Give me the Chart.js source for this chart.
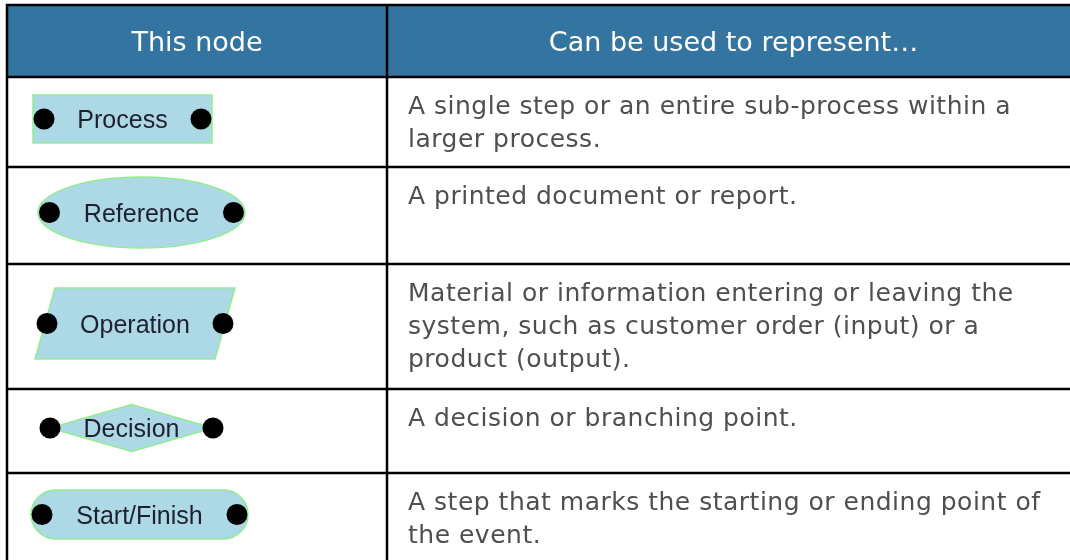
<!DOCTYPE html>
<html>
<head>
<meta charset="utf-8">
<script src="https://cdn.jsdelivr.net/npm/chart.js@4.4.1/dist/chart.umd.min.js"></script>
<style>
  html, body { margin: 0; padding: 0; background: #fff; }
  #wrap { width: 1070px; height: 560px; }
</style>
</head>
<body>
<div id="wrap"><canvas id="nodeTable" width="1070" height="560"></canvas></div>
<script>
// Table content
const headers = ["This node", "Can be used to represent…"];
const nodeNames = ["Process", "Reference", "Operation", "Decision", "Start/Finish"];
const nodeShapes = ["rect", "ellipse", "parallelogram", "diamond", "stadium"];
const descriptions = [
    ["A single step or an entire sub-process within a", "larger process."],
    ["A printed document or report."],
    ["Material or information entering or leaving the", "system, such as customer order (input) or a", "product (output)."],
    ["A decision or branching point."],
    ["A step that marks the starting or ending point of", "the event."]
];

// Layout (in scale units, the scales span the whole canvas)
const colEdges = [7, 387, 1080];
const rowEdges = [5, 77, 167, 264, 389, 473, 562];
const shapeStyle = {
    rect:          { w: 179, h: 48, cx: 122.5, dot: 11 },
    ellipse:       { w: 207, h: 71, cx: 141.5, dot: 11.5 },
    parallelogram: { w: 200, h: 71, cx: 135,   dot: 12, slant: 20 },
    diamond:       { w: 163, h: 47, cx: 131.5, dot: 0 },
    stadium:       { w: 217, h: 49, cx: 139.5, dot: 11 }
};

const headerFill = "#3474a1";
const gridColor = "#000";
const bodyColor = "#4f4f4f";
const nodeFill = "#add8e6";
const nodeStroke = "#90ee90";

function rowMid(r) { return (rowEdges[r] + rowEdges[r + 1]) / 2; }

// table grid, header and description texts
const tablePlugin = {
    id: "tableGrid",
    beforeDatasetsDraw(chart) {
        const ctx = chart.ctx;
        const xs = chart.scales.x, ys = chart.scales.y;
        const X = v => xs.getPixelForValue(v);
        const Y = v => ys.getPixelForValue(v);
        ctx.save();

        // header band
        ctx.fillStyle = headerFill;
        ctx.fillRect(X(colEdges[0]), Y(rowEdges[0]), X(colEdges[2]) - X(colEdges[0]), Y(rowEdges[1]) - Y(rowEdges[0]));

        // header labels
        ctx.fillStyle = "#fff";
        ctx.font = "27px 'DejaVu Sans'";
        ctx.textAlign = "center";
        ctx.textBaseline = "alphabetic";
        headers.forEach((h, c) => {
            const cx = (X(colEdges[c]) + X(colEdges[c + 1])) / 2;
            ctx.fillText(h, cx, Y(rowMid(0)) + 10);
        });

        // descriptions
        ctx.fillStyle = bodyColor;
        ctx.font = "25px 'DejaVu Sans'";
        ctx.textAlign = "left";
        if ("letterSpacing" in ctx) ctx.letterSpacing = "0.5px";
        descriptions.forEach((lines, i) => {
            const top = Y(rowEdges[i + 1]);
            lines.forEach((ln, k) => {
                ctx.fillText(ln, X(colEdges[1]) + 21, top + 37 + k * 33);
            });
        });
        if ("letterSpacing" in ctx) ctx.letterSpacing = "0px";

        // grid lines
        ctx.strokeStyle = gridColor;
        ctx.lineWidth = 2.5;
        ctx.beginPath();
        rowEdges.forEach(r => {
            ctx.moveTo(X(colEdges[0]) - 1.25, Y(r));
            ctx.lineTo(X(colEdges[2]), Y(r));
        });
        colEdges.forEach(c => {
            ctx.moveTo(X(c), Y(rowEdges[0]));
            ctx.lineTo(X(c), Y(rowEdges[rowEdges.length - 1]));
        });
        ctx.stroke();
        ctx.restore();
    },
    afterDatasetsDraw(chart) {
        const ctx = chart.ctx;
        const meta = chart.getDatasetMeta(0);
        ctx.save();
        meta.data.forEach((pt, i) => {
            const kind = nodeShapes[i];
            const s = shapeStyle[kind];
            const x = pt.x, y = pt.y;
            const hw = s.w / 2, hh = s.h / 2;

            ctx.beginPath();
            if (kind === "rect") {
                ctx.rect(x - hw, y - hh, s.w, s.h);
            } else if (kind === "ellipse") {
                ctx.ellipse(x, y, hw, hh, 0, 0, Math.PI * 2);
            } else if (kind === "parallelogram") {
                ctx.moveTo(x - hw + s.slant, y - hh);
                ctx.lineTo(x + hw, y - hh);
                ctx.lineTo(x + hw - s.slant, y + hh);
                ctx.lineTo(x - hw, y + hh);
                ctx.closePath();
            } else if (kind === "diamond") {
                ctx.moveTo(x - hw, y);
                ctx.lineTo(x, y - hh);
                ctx.lineTo(x + hw, y);
                ctx.lineTo(x, y + hh);
                ctx.closePath();
            } else {
                ctx.roundRect(x - hw, y - hh, s.w, s.h, hh);
            }
            ctx.fillStyle = nodeFill;
            ctx.fill();
            ctx.strokeStyle = nodeStroke;
            ctx.lineWidth = 1.5;
            ctx.stroke();

            // connector dots
            ctx.fillStyle = "#000";
            [-1, 1].forEach(side => {
                ctx.beginPath();
                ctx.arc(x + side * (hw - s.dot), y, 10.5, 0, Math.PI * 2);
                ctx.fill();
            });

            // node label
            ctx.fillStyle = "#1f1f2e";
            ctx.font = "25px 'Liberation Sans'";
            ctx.textAlign = "center";
            ctx.textBaseline = "alphabetic";
            ctx.fillText(nodeNames[i], x, y + 9);
        });
        ctx.restore();
    }
};

const ctxTable = document.getElementById("nodeTable").getContext("2d");
const nodeChart = new Chart(ctxTable, {
    type: "scatter",
    data: {
        datasets: [{
            label: "nodes",
            data: nodeNames.map((n, i) => ({ x: shapeStyle[nodeShapes[i]].cx, y: rowMid(i + 1) - 3 })),
            pointRadius: 0,
            pointHoverRadius: 0
        }]
    },
    options: {
        responsive: false,
        animation: false,
        layout: { padding: 0 },
        plugins: { legend: { display: false }, tooltip: { enabled: false } },
        scales: {
            x: { type: "linear", min: 0, max: 1070, display: false },
            y: { type: "linear", min: 0, max: 560, reverse: true, display: false }
        }
    },
    plugins: [tablePlugin]
});
</script>
</body>
</html>
